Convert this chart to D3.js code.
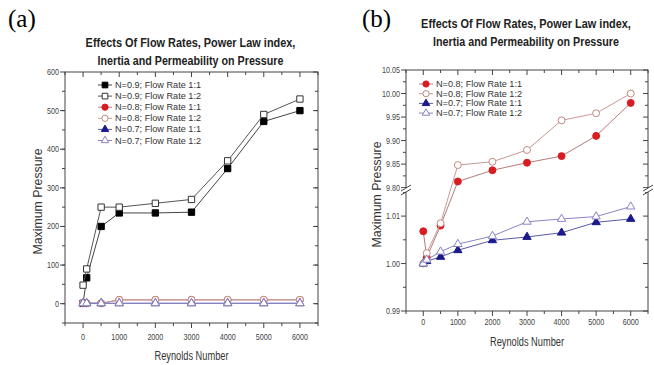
<!DOCTYPE html>
<html>
<head>
<meta charset="utf-8">
<script src="https://cdn.jsdelivr.net/npm/d3@7"></script>
<style>
  body { margin: 0; background: #fff; }
  svg { display: block; }
  text { font-family: "Liberation Sans", Arial, sans-serif; }
</style>
</head>
<body>
<div id="chart"></div>
<script>
//Data
var reynolds = [0, 100, 500, 1000, 2000, 3000, 4000, 5000, 6000];
var n09Rate11 = [1, 67, 200, 235, 235, 237, 350, 472, 500];
var n09Rate12 = [48, 90, 250, 250, 260, 270, 370, 490, 530];
var n08Rate11 = [1.0068, 1.0013, 1.008, 9.813, 9.837, 9.853, 9.867, 9.91, 9.98];
var n08Rate12 = [1.000, 1.0022, 1.0085, 9.848, 9.855, 9.88, 9.943, 9.958, 10.0];
var n07Rate11 = [1.000, 1.0005, 1.0014, 1.0028, 1.0049, 1.0056, 1.0065, 1.0087, 1.0094];
var n07Rate12 = [1.000, 1.0008, 1.0025, 1.0041, 1.0058, 1.0088, 1.0094, 1.0099, 1.012];

var xTicks = [0, 1000, 2000, 3000, 4000, 5000, 6000];
var yTicksA = [0, 100, 200, 300, 400, 500, 600];
var yTicksUpper = [9.80, 9.85, 9.90, 9.95, 10.00, 10.05];
var yTicksLower = [0.99, 1.00, 1.01];

var titleLines = ["Effects Of Flow Rates, Power Law index,", "Inertia and Permeability on Pressure"];

//Series styles
var series = [
    { name: "N=0.9; Flow Rate 1:1", values: n09Rate11, shape: d3.symbolSquare, size: 40, fill: "#000", stroke: "#000", line: "#444" },
    { name: "N=0.9; Flow Rate 1:2", values: n09Rate12, shape: d3.symbolSquare, size: 40, fill: "#fff", stroke: "#333", line: "#555" },
    { name: "N=0.8; Flow Rate 1:1", values: n08Rate11, shape: d3.symbolCircle, size: 38, fill: "#d81d22", stroke: "#d81d22", line: "#b87a7a" },
    { name: "N=0.8; Flow Rate 1:2", values: n08Rate12, shape: d3.symbolCircle, size: 38, fill: "#fff", stroke: "#c08a80", line: "#c79a94" },
    { name: "N=0.7; Flow Rate 1:1", values: n07Rate11, shape: d3.symbolTriangle, size: 30, fill: "#1a1a8c", stroke: "#1a1a8c", line: "#5a5aa8" },
    { name: "N=0.7; Flow Rate 1:2", values: n07Rate12, shape: d3.symbolTriangle, size: 30, fill: "#fff", stroke: "#8a84c4", line: "#8a84c4" }
];

var svg = d3.select("#chart").append("svg")
    .attr("width", 654)
    .attr("height", 365);

//Narrow tick label (the original uses a condensed face)
function tickLabel(g, x, y, anchor, txt) {
    g.append("text")
        .attr("transform", "translate(" + x + "," + y + ") scale(0.8,1)")
        .attr("text-anchor", anchor)
        .style("font-size", "9px").attr("fill", "#444")
        .text(txt);
}

//Text squeezed horizontally to a target width
function fitText(g, x, y, width, txt, size, weight) {
    var t = g.append("text")
        .attr("text-anchor", "middle")
        .style("font-size", size + "px").style("font-weight", weight)
        .attr("fill", "#222")
        .text(txt);
    var k = width / t.node().getComputedTextLength();
    t.attr("transform", "translate(" + x + "," + y + ") scale(" + k + ",1)");
    return t;
}

function drawPanel(cfg) {
    var g = svg.append("g");
    var x = d3.scaleLinear().domain([-500, 6500]).range([cfg.left, cfg.right]);
    var y = cfg.y;

    //Panel letter
    svg.append("text")
        .attr("x", cfg.letterX).attr("y", cfg.letterY)
        .style("font-family", "'Liberation Serif', 'Times New Roman', serif")
        .style("font-size", "25px")
        .text(cfg.letter);

    //Title
    var cx = (cfg.left + cfg.right) / 2;
    titleLines.forEach(function(t, i) {
        fitText(g, cx - 1, cfg.titleY + i * 18, i === 0 ? 210 : 186, t, 13.5, "bold");
    });

    //Frame
    g.append("rect")
        .attr("x", cfg.left).attr("y", cfg.top)
        .attr("width", cfg.right - cfg.left).attr("height", cfg.bottom - cfg.top)
        .attr("fill", "none").attr("stroke", "#444").attr("stroke-width", 1);

    //X ticks bottom (outward) and top (inward)
    var xMinor = d3.range(-500, 6501, 500);
    xMinor.forEach(function(v) {
        var major = xTicks.indexOf(v) >= 0;
        var len = major ? 5 : 3;
        g.append("line").attr("x1", x(v)).attr("x2", x(v))
            .attr("y1", cfg.bottom).attr("y2", cfg.bottom + len)
            .attr("stroke", "#444");
        g.append("line").attr("x1", x(v)).attr("x2", x(v))
            .attr("y1", cfg.top).attr("y2", cfg.top + len)
            .attr("stroke", "#444");
    });
    xTicks.forEach(function(v) {
        tickLabel(g, x(v), cfg.bottom + cfg.xLabelOffset, "middle", v);
    });

    //Y ticks left (outward) and right (inward)
    cfg.yMinor.forEach(function(v) {
        var len = 3;
        g.append("line").attr("x1", cfg.left - len).attr("x2", cfg.left)
            .attr("y1", y(v)).attr("y2", y(v)).attr("stroke", "#444");
        g.append("line").attr("x1", cfg.right - len).attr("x2", cfg.right)
            .attr("y1", y(v)).attr("y2", y(v)).attr("stroke", "#444");
    });
    cfg.yTicks.forEach(function(v) {
        g.append("line").attr("x1", cfg.left - 5).attr("x2", cfg.left)
            .attr("y1", y(v)).attr("y2", y(v)).attr("stroke", "#444");
        g.append("line").attr("x1", cfg.right - 5).attr("x2", cfg.right)
            .attr("y1", y(v)).attr("y2", y(v)).attr("stroke", "#444");
        tickLabel(g, cfg.left - 6, y(v) + 3, "end", cfg.yFormat(v));
    });

    //Axis labels
    g.append("text")
        .attr("transform", "translate(" + cfg.yLabelX + "," + ((cfg.top + cfg.bottom) / 2 + 4) + ") rotate(-90)")
        .attr("text-anchor", "middle")
        .attr("textLength", 106).attr("lengthAdjust", "spacingAndGlyphs")
        .style("font-size", "12px").attr("fill", "#333")
        .text("Maximum Pressure");
    g.append("text")
        .attr("x", cx).attr("y", cfg.xLabelY)
        .attr("text-anchor", "middle")
        .attr("textLength", 74).attr("lengthAdjust", "spacingAndGlyphs")
        .style("font-size", "12px").attr("fill", "#333")
        .text("Reynolds Number");

    //Series lines and markers
    var line = d3.line()
        .x(function(d, i) { return x(reynolds[i]); })
        .y(function(d) { return y(d); });

    cfg.series.forEach(function(s) {
        g.append("path")
            .attr("d", line(s.values))
            .attr("fill", "none")
            .attr("stroke", s.line)
            .attr("stroke-width", 1);
        g.selectAll(null)
            .data(s.values)
            .enter()
            .append("path")
            .attr("d", d3.symbol().type(s.shape).size(s.size))
            .attr("transform", function(d, i) { return "translate(" + x(reynolds[i]) + "," + y(d) + ")"; })
            .attr("fill", s.fill)
            .attr("stroke", s.stroke)
            .attr("stroke-width", 1);
    });

    //Legend
    cfg.series.forEach(function(s, i) {
        var ly = cfg.legendY + i * cfg.legendStep;
        g.append("line")
            .attr("x1", cfg.legendX).attr("x2", cfg.legendX + 14)
            .attr("y1", ly).attr("y2", ly)
            .attr("stroke", s.line);
        g.append("path")
            .attr("d", d3.symbol().type(s.shape).size(s.size * 0.8))
            .attr("transform", "translate(" + (cfg.legendX + 7) + "," + ly + ")")
            .attr("fill", s.fill).attr("stroke", s.stroke);
        g.append("text")
            .attr("x", cfg.legendX + 17).attr("y", ly + 3)
            .attr("textLength", 86).attr("lengthAdjust", "spacingAndGlyphs")
            .style("font-size", "8.5px").attr("fill", "#333")
            .text(s.name);
    });

    //Axis break marks
    if (cfg.breakY) {
        [cfg.left, cfg.right].forEach(function(bx) {
            g.append("rect")
                .attr("x", bx - 4).attr("y", cfg.breakY - 2)
                .attr("width", 8).attr("height", 4)
                .attr("fill", "#fff");
            [-2, 2].forEach(function(off) {
                g.append("line")
                    .attr("x1", bx - 5).attr("x2", bx + 5)
                    .attr("y1", cfg.breakY + off + 3).attr("y2", cfg.breakY + off - 3)
                    .attr("stroke", "#444");
            });
        });
    }
}

//Panel (a)
var yA = d3.scaleLinear().domain([-50, 600]).range([323, 72]);
drawPanel({
    letter: "(a)", letterX: 8, letterY: 27,
    left: 65, right: 318, top: 72, bottom: 323,
    titleY: 47,
    y: yA,
    yTicks: yTicksA,
    yMinor: d3.range(-50, 600, 50),
    yFormat: d3.format("d"),
    xLabelOffset: 17, xLabelY: 360,
    yLabelX: 42,
    legendX: 98, legendY: 85, legendStep: 11.1,
    series: series
});

//Panel (b), broken y axis
var yUpper = d3.scaleLinear().domain([9.795, 10.05]).range([190, 70]);
var yLower = d3.scaleLinear().domain([0.99, 1.0155]).range([311, 190]);
var yB = function(v) { return v > 5 ? yUpper(v) : yLower(v); };
drawPanel({
    letter: "(b)", letterX: 362, letterY: 27,
    left: 406, right: 648, top: 70, bottom: 311,
    titleY: 28,
    y: yB,
    yTicks: yTicksUpper.concat(yTicksLower),
    yMinor: [9.825, 9.875, 9.925, 9.975, 10.025, 0.995, 1.005, 1.015],
    yFormat: d3.format(".2f"),
    xLabelOffset: 14, xLabelY: 346,
    yLabelX: 381,
    legendX: 419, legendY: 84, legendStep: 9.7,
    series: series.slice(2),
    breakY: 190
});
</script>
</body>
</html>
